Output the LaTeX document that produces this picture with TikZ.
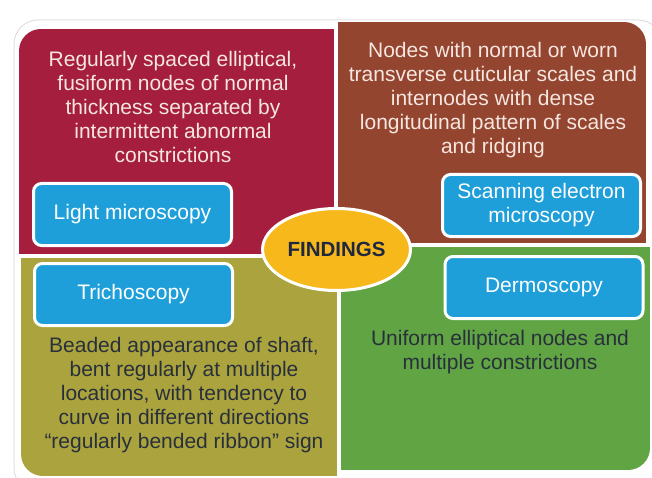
\documentclass[tikz,border=0pt]{standalone}
\usepackage{fontspec}
\setmainfont{Liberation Sans}
\usepackage{xcolor}
\usepackage{tikz}
\usetikzlibrary{positioning, shapes.geometric}

\definecolor{quadred}{HTML}{A51E3D}
\definecolor{quadbrown}{HTML}{94452F}
\definecolor{quadolive}{HTML}{ABA33D}
\definecolor{quadgreen}{HTML}{60A444}
\definecolor{methodblue}{HTML}{1E9FDA}
\definecolor{hubgold}{HTML}{F6B81A}
\definecolor{hubtext}{HTML}{1F2840}
\definecolor{lighttext}{HTML}{F6E6E0}
\definecolor{darktext}{HTML}{28303C}

\begin{document}
\begin{tikzpicture}[
  x=1pt, y=-1pt,
  box/.style={draw=white, line width=3pt, fill=methodblue, rounded corners=8pt,
    minimum width=198pt, minimum height=62pt, align=center, text=white,
    font=\fontsize{21}{24}\selectfont},
  note/.style={align=center, font=\fontsize{21}{24}\selectfont},
  hub/.style={ellipse, draw=white, line width=3pt, fill=hubgold, minimum width=140pt,
    minimum height=82pt, text=hubtext, font=\bfseries\fontsize{20.5}{24}\selectfont}
]
\useasboundingbox (0,0) rectangle (652,478);

% Frame
\draw[black!12, line width=1pt, rounded corners=24pt] (14,20) rectangle (662,492);

% Quadrants
\begin{scope}
  \clip[rounded corners=22pt] (19,29) rectangle (420,330);
  \fill[quadred] (19,29) rectangle (334,254);
\end{scope}
\begin{scope}
  \clip[rounded corners=22pt] (250,22) rectangle (646,320);
  \fill[quadbrown] (338,22) rectangle (646,243);
\end{scope}
\begin{scope}
  \clip[rounded corners=22pt] (21,180) rectangle (420,476);
  \fill[quadolive] (21,258) rectangle (337,476);
\end{scope}
\begin{scope}
  \clip[rounded corners=22pt] (250,170) rectangle (650,470);
  \fill[quadgreen] (341,247) rectangle (650,470);
\end{scope}

% Nodes
\node[note, text=lighttext] (n1) at (173,107) {Regularly spaced elliptical,\\ fusiform nodes of normal\\ thickness separated by\\ intermittent abnormal\\ constrictions};
\node[note, text=lighttext] (n2) at (493,100) {Nodes with normal or worn\\ transverse cuticular scales and\\ internodes with dense\\ longitudinal pattern of scales\\ and ridging};
\node[note, text=darktext] (n3) at (184,395) {Beaded appearance of shaft,\\ bent regularly at multiple\\ locations, with tendency to\\ curve in different directions\\ ``regularly bended ribbon'' sign};
\node[note, text=darktext] (n4) at (500,352) {Uniform elliptical nodes and\\ multiple constrictions};

\node[box] (lm) at (132.5,214.5) {Light microscopy};
\node[box] (sem) at (541.5,205.5) {Scanning electron\\ microscopy};
\node[box] (tri) at (133.5,294.5) {Trichoscopy};
\node[box] (der) at (544,287.5) {Dermoscopy};

\node[hub] (find) at (336.5,249.5) {FINDINGS};
\end{tikzpicture}
\end{document}
